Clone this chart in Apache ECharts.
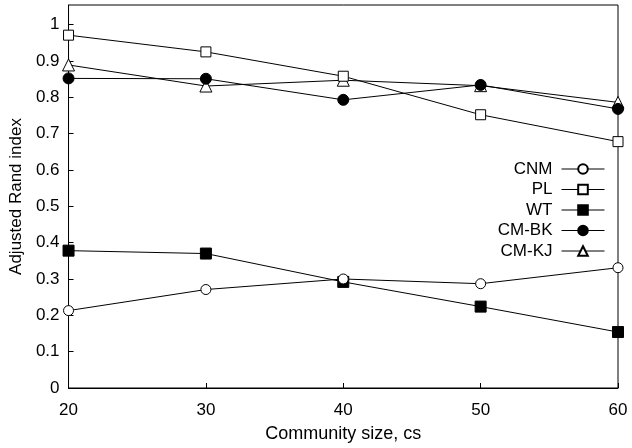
<!DOCTYPE html>
<html><head><meta charset="utf-8">
<script src="https://cdn.jsdelivr.net/npm/echarts@6/dist/echarts.min.js"></script>
<style>html,body{margin:0;padding:0;background:#fff}#c{width:632px;height:448px}</style>
</head><body><div id="c"></div>
<script>
const xValues = [20, 30, 40, 50, 60];
const cnm  = [0.213, 0.271, 0.300, 0.287, 0.331];
const pl   = [0.971, 0.925, 0.858, 0.752, 0.678];
const wt   = [0.378, 0.370, 0.292, 0.224, 0.154];
const cmbk = [0.852, 0.851, 0.793, 0.834, 0.768];
const cmkj = [0.889, 0.831, 0.847, 0.832, 0.786];
const seriesNames = ['CNM', 'PL', 'WT', 'CM-BK', 'CM-KJ'];
const xLabel = 'Community size, cs';
const yLabel = 'Adjusted Rand index';

const font = 'Liberation Sans, Arial, sans-serif';
const styles = [
  {symbol: 'circle', size: 10, fill: '#fff'},
  {symbol: 'rect', size: 10, fill: '#fff'},
  {symbol: 'rect', size: 11, fill: '#000'},
  {symbol: 'circle', size: 11, fill: '#000'},
  {symbol: 'triangle', size: 12, fill: '#fff'}
];
const data = [cnm, pl, wt, cmbk, cmkj];
const series = seriesNames.map((n, i) => ({
  name: n, type: 'line',
  data: xValues.map((x, j) => [x, data[i][j]]),
  symbol: styles[i].symbol, symbolSize: styles[i].size,
  showAllSymbol: true,
  lineStyle: {color: '#000', width: 1},
  itemStyle: {color: styles[i].fill, borderColor: '#000', borderWidth: 1},
  emphasis: {disabled: true},
  animation: false,
  z: 10 - i
}));

const chart = echarts.init(document.getElementById('c'), null, {renderer: 'canvas'});
chart.setOption({
  animation: false,
  backgroundColor: '#fff',
  grid: {left: 62, top: 5, right: 14, bottom: 53, show: true, borderColor: '#000', borderWidth: 1, backgroundColor: 'transparent'},
  legend: {
    orient: 'vertical', align: 'right', right: 22, top: 155.5,
    itemWidth: 43, itemHeight: 12, itemGap: 3.5,
    lineStyle: {width: 1},
    textStyle: {fontFamily: font, fontSize: 17, lineHeight: 17, color: '#000', padding: [0, 4, 0, 0]},
    data: seriesNames
  },
  xAxis: {
    type: 'value', min: 20, max: 60, interval: 10,
    name: xLabel, nameLocation: 'middle', nameGap: 37,
    nameTextStyle: {fontFamily: font, fontSize: 18, color: '#000'},
    axisLine: {lineStyle: {color: '#000', width: 1}},
    axisTick: {inside: true, length: 5, lineStyle: {color: '#000'}},
    axisLabel: {fontFamily: font, fontSize: 17, lineHeight: 17, color: '#000', margin: 14},
    splitLine: {show: false}
  },
  yAxis: {
    type: 'value', min: 0, max: 1.054, interval: 0.1,
    name: yLabel, nameLocation: 'middle', nameGap: 43,
    nameTextStyle: {fontFamily: font, fontSize: 17, color: '#000'},
    axisLine: {show: true, lineStyle: {color: '#000', width: 1}},
    axisTick: {show: true, inside: true, length: 5, lineStyle: {color: '#000'}},
    axisLabel: {fontFamily: font, fontSize: 17, color: '#000', margin: 9, showMaxLabel: false,
      padding: [3, 0, 0, 0],
      formatter: v => (Math.abs(v * 10 - Math.round(v * 10)) < 1e-6 ? String(Math.round(v * 10) / 10) : '')},
    splitLine: {show: false}
  },
  series: series
});
</script></body></html>
